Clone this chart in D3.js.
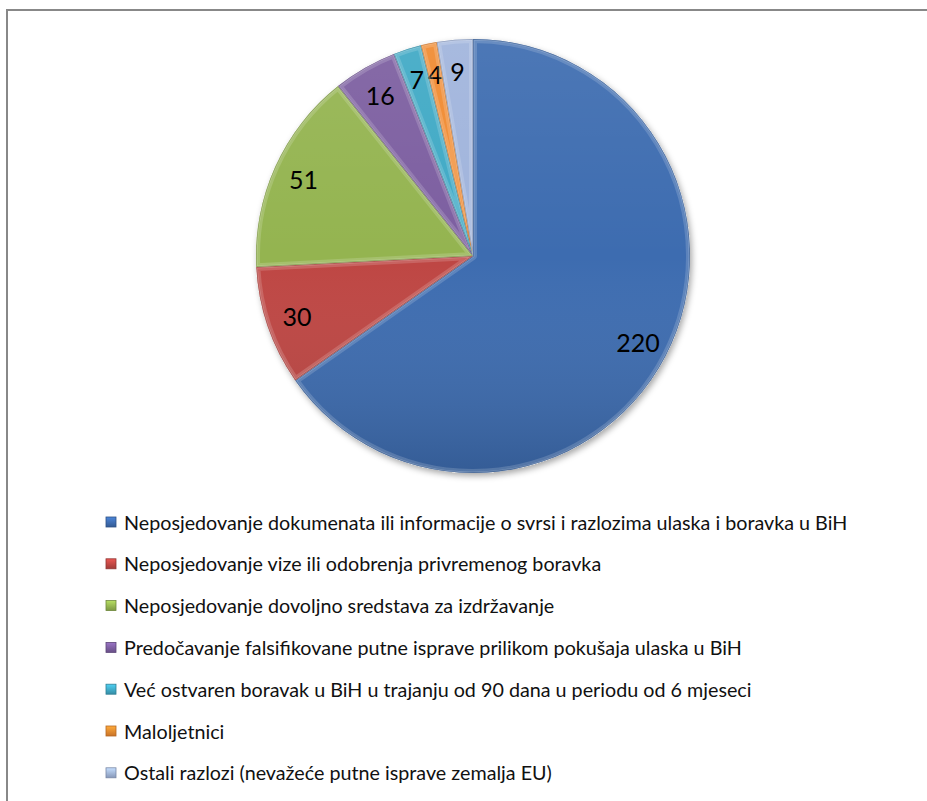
<!DOCTYPE html>
<html><head><meta charset="utf-8">
<script src="https://cdn.jsdelivr.net/npm/d3@7"></script>
<style>html,body{margin:0;padding:0;background:#fff;overflow:hidden}svg{display:block}</style>
</head><body>
<script>
const categories = [
  "Neposjedovanje dokumenata ili informacije o svrsi i razlozima ulaska i boravka u BiH",
  "Neposjedovanje vize ili odobrenja privremenog boravka",
  "Neposjedovanje dovoljno sredstava za izdržavanje",
  "Predočavanje falsifikovane putne isprave prilikom pokušaja ulaska u BiH",
  "Već ostvaren boravak u BiH u trajanju od 90 dana u periodu od 6 mjeseci",
  "Maloljetnici",
  "Ostali razlozi (nevažeće putne isprave zemalja EU)"
];
const values = [220, 30, 51, 16, 7, 4, 9];
const colors = ["#3D6CB0", "#BE4643", "#94B450", "#7C5EA0", "#3FA9C5", "#F08A30", "#A0B4DC"];

const W = 927, H = 801;
const svg = d3.select("body").append("svg").attr("width", W).attr("height", H);
const defs = svg.append("defs");

const f = defs.append("filter").attr("id","shadow").attr("x","-20%").attr("y","-20%").attr("width","140%").attr("height","140%");
f.append("feDropShadow").attr("dx",2).attr("dy",3).attr("stdDeviation",3).attr("flood-color","#000").attr("flood-opacity",0.35);

svg.append("rect").attr("x",7).attr("y",10).attr("width",1000).attr("height",900)
  .attr("fill","none").attr("stroke","#888").attr("stroke-width",2);

const cx = 473, cy = 256, R = 217;
const g = svg.append("g").attr("transform",`translate(${cx},${cy})`);

const pie = d3.pie().sort(null).value(d => d)(values);
const arc = d3.arc().innerRadius(0).outerRadius(R);
const labelArc = d3.arc().innerRadius(186).outerRadius(186);

const lg = defs.append("linearGradient").attr("id","shade")
  .attr("gradientUnits","userSpaceOnUse").attr("x1",0).attr("y1",-R).attr("x2",0).attr("y2",R);
lg.append("stop").attr("offset","0%").attr("stop-color","#fff").attr("stop-opacity",0.08);
lg.append("stop").attr("offset","50%").attr("stop-color","#fff").attr("stop-opacity",0.0);
lg.append("stop").attr("offset","100%").attr("stop-color","#000").attr("stop-opacity",0.15);

g.append("circle").attr("r",R).attr("fill","#fff").attr("filter","url(#shadow)");

pie.forEach((d,i) => {
  const id = "clip"+i;
  defs.append("clipPath").attr("id",id).append("path").attr("d",arc(d)).attr("transform",`translate(${cx},${cy})`);
  g.append("path").attr("d",arc(d)).attr("fill",colors[i]);
  g.append("path").attr("d",arc(d)).attr("fill","url(#shade)");
  const bev = svg.append("g").attr("clip-path",`url(#${id})`);
  bev.append("path").attr("d",arc(d)).attr("transform",`translate(${cx},${cy})`)
    .attr("fill","none").attr("stroke","#fff").attr("stroke-opacity",0.16).attr("stroke-width",8).attr("stroke-linejoin","round");
  bev.append("path").attr("d",arc(d)).attr("transform",`translate(${cx},${cy})`)
    .attr("fill","none").attr("stroke","#fff").attr("stroke-opacity",0.18).attr("stroke-width",3).attr("stroke-linejoin","round");
  bev.append("path").attr("d",arc(d)).attr("transform",`translate(${cx},${cy})`)
    .attr("fill","none").attr("stroke",d3.color(colors[i]).darker(0.8)).attr("stroke-opacity",0.6).attr("stroke-width",1.5);
});

g.selectAll("text.lbl").data(pie).enter().append("text")
  .attr("class","lbl")
  .attr("transform", d => `translate(${labelArc.centroid(d)})`)
  .attr("text-anchor","middle").attr("dominant-baseline","central")
  .style("font-family","Lato, 'Open Sans', sans-serif").style("font-size","25px").attr("fill","#000")
  .text(d => d.value);

const legY0 = 522, legStep = 41.8;
const items = svg.append("g").selectAll("g").data(categories).enter().append("g")
  .attr("transform",(d,i)=>`translate(0,${legY0 + i*legStep})`);
categories.forEach((c,i)=>{
  const gr = defs.append("linearGradient").attr("id","lg"+i).attr("x1",0).attr("y1",0).attr("x2",0).attr("y2",1);
  gr.append("stop").attr("offset","0%").attr("stop-color",d3.color(colors[i]).brighter(0.6));
  gr.append("stop").attr("offset","100%").attr("stop-color",d3.color(colors[i]).darker(0.5));
});
items.append("rect").attr("x",106).attr("y",-5).attr("width",10).attr("height",10)
  .attr("fill",(d,i)=>`url(#lg${i})`).attr("stroke",(d,i)=>d3.color(colors[i]).darker(0.8)).attr("stroke-width",0.8);
const texts = items.append("text").attr("x",124).attr("y",0).attr("dominant-baseline","central")
  .style("font-family","Lato, 'Open Sans', sans-serif").style("font-size","17px").attr("fill","#111")
  .text(d=>d);
const w0 = texts.nodes()[0].getComputedTextLength();
texts.style("font-size", (17 * 724 / w0) + "px");
</script>
</body></html>
